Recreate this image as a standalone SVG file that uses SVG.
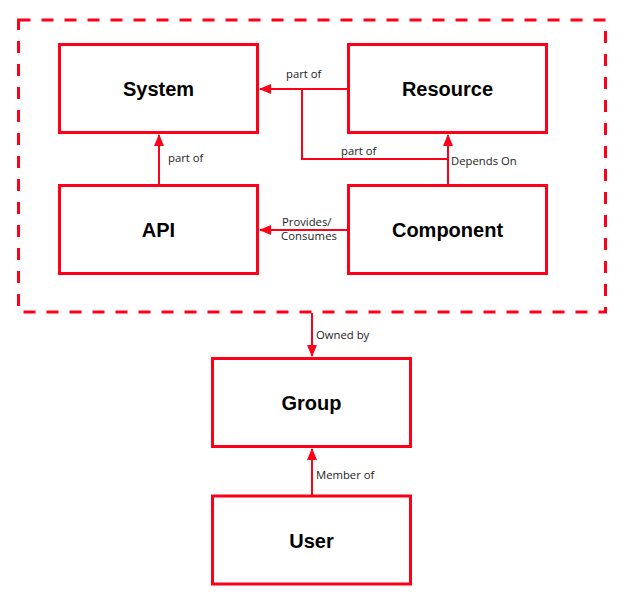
<svg xmlns="http://www.w3.org/2000/svg" width="632" height="609" viewBox="0 0 632 609">
<style>
.box{fill:#fff;stroke:#ff0018;stroke-width:3}
.title{font-family:"Liberation Sans",Arial,sans-serif;font-weight:bold;font-size:20px;fill:#000;text-anchor:middle}
.lbl{font-family:"Open Sans","Liberation Sans",sans-serif;font-size:11.3px;fill:#222}
.con{fill:none;stroke:#ff0018;stroke-width:2}
.dash{fill:none;stroke:#ff0018;stroke-width:3;stroke-dasharray:12 11}
</style>
<defs>
<marker id="arr" markerWidth="12" markerHeight="10" refX="11" refY="5" orient="auto" markerUnits="userSpaceOnUse">
<path d="M0,0 L12,5 L0,10 Z" fill="#ff0018"/>
</marker>
</defs>
<rect id="container" class="dash" x="18.5" y="20" width="587" height="292"/>
<g id="system"><rect class="box" x="59.5" y="44.5" width="198" height="88"/><text class="title" x="158.5" y="96">System</text></g>
<g id="resource"><rect class="box" x="348.5" y="44.5" width="198" height="88"/><text class="title" x="447.5" y="96">Resource</text></g>
<g id="api"><rect class="box" x="59.5" y="185.5" width="198" height="88"/><text class="title" x="158.5" y="237">API</text></g>
<g id="component"><rect class="box" x="348.5" y="185.5" width="198" height="88"/><text class="title" x="447.5" y="237">Component</text></g>
<g id="group"><rect class="box" x="212.5" y="358.5" width="198" height="88"/><text class="title" x="311.5" y="410">Group</text></g>
<g id="user"><rect class="box" x="212.5" y="496" width="198" height="88"/><text class="title" x="311.5" y="548">User</text></g>
<g id="connectors">
<path class="con" d="M347,89 H260" marker-end="url(#arr)"/>
<path class="con" d="M448,159 H302 V89"/>
<path class="con" d="M448,184 V135" marker-end="url(#arr)"/>
<path class="con" d="M159,184 V135" marker-end="url(#arr)"/>
<path class="con" d="M347,230 H260" marker-end="url(#arr)"/>
<path class="con" d="M312,313 V356" marker-end="url(#arr)"/>
<path class="con" d="M312,495 V449" marker-end="url(#arr)"/>
<text class="lbl" x="286" y="78">part of</text>
<text class="lbl" x="341" y="155">part of</text>
<text class="lbl" x="451" y="165">Depends On</text>
<text class="lbl" x="168" y="162">part of</text>
<text class="lbl" x="282" y="226">Provides/</text>
<text class="lbl" x="281" y="240" textLength="56">Consumes</text>
<text class="lbl" x="316" y="339">Owned by</text>
<text class="lbl" x="316" y="479">Member of</text>
</g>
</svg>
